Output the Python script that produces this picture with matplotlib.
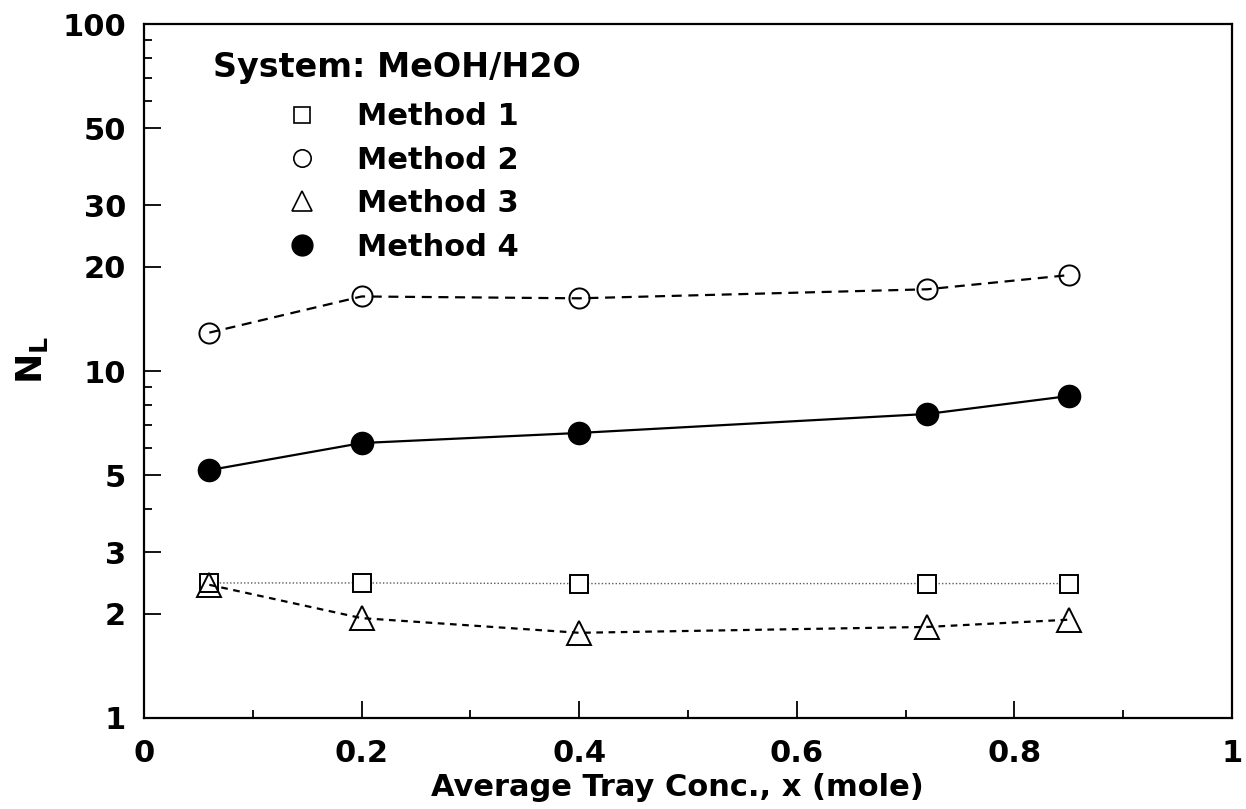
#!/usr/bin/env python3
"""Number of liquid-phase transfer units versus average tray concentration."""
import matplotlib
matplotlib.use("Agg")
import matplotlib.pyplot as plt
from matplotlib.lines import Line2D

plt.rcParams['font.family'] = ['DejaVu Sans']
plt.rcParams['font.weight'] = 'bold'
plt.rcParams['mathtext.fontset'] = 'custom'
plt.rcParams['mathtext.rm'] = 'DejaVu Sans:bold'
plt.rcParams['mathtext.bf'] = 'DejaVu Sans:bold'
plt.rcParams['mathtext.it'] = 'DejaVu Sans:bold'

# Average tray concentration, x (mole fraction MeOH)
x_conc = [0.06, 0.2, 0.4, 0.72, 0.85]

# N_L for each method
method1 = [2.45, 2.45, 2.44, 2.44, 2.44]
method2 = [12.9, 16.4, 16.2, 17.2, 18.9]
method3 = [2.42, 1.94, 1.76, 1.83, 1.92]
method4 = [5.18, 6.2, 6.63, 7.52, 8.47]

y_major = [1, 2, 3, 5, 10, 20, 30, 50, 100]
y_minor = [4, 6, 7, 8, 9, 60, 70, 80, 90]
x_major = [0, 0.2, 0.4, 0.6, 0.8, 1]
x_minor = [0.1, 0.3, 0.5, 0.7, 0.9]
x_labels = ['0', '0.2', '0.4', '0.6', '0.8', '1']
method_names = ['Method 1', 'Method 2', 'Method 3', 'Method 4']


def main():
    fig = plt.figure(figsize=(12.46, 8.09), dpi=100)
    ax = fig.add_axes([0.1156, 0.1125, 0.8732, 0.8578])

    ax.plot(x_conc, method1, linestyle=(0, (1, 1.5)), color='0.35', linewidth=1.0,
            marker='s', markersize=13.5, markerfacecolor='white',
            markeredgecolor='black', markeredgewidth=1.4, zorder=3)
    ax.plot(x_conc, method2, linestyle=(0, (4.5, 3)), color='black', linewidth=1.6,
            marker='o', markersize=14.5, markerfacecolor='none',
            markeredgecolor='black', markeredgewidth=1.4, zorder=3)
    ax.plot(x_conc, method3, linestyle=(0, (3, 2.5)), color='black', linewidth=1.6,
            marker='^', markersize=17, markerfacecolor='none',
            markeredgecolor='black', markeredgewidth=1.4, zorder=3)
    ax.plot(x_conc, method4, linestyle='-', color='black', linewidth=1.6,
            marker='o', markersize=16, markerfacecolor='black',
            markeredgecolor='black', zorder=3)

    ax.set_yscale('log')
    ax.set_xlim(0, 1)
    ax.set_ylim(1, 100)

    ax.set_yticks(y_major, [str(v) for v in y_major])
    ax.set_yticks(y_minor, minor=True)
    ax.yaxis.set_minor_formatter(plt.NullFormatter())
    ax.set_xticks(x_major, x_labels)
    ax.set_xticks(x_minor, minor=True)

    ax.tick_params(which='both', direction='in', top=False, right=False,
                   labelsize=22, width=1.3)
    ax.tick_params(which='major', length=12)
    ax.tick_params(which='minor', length=6)
    ax.tick_params(axis='x', pad=15)
    ax.tick_params(axis='y', pad=13)

    for spine in ax.spines.values():
        spine.set_linewidth(1.6)

    ax.set_xlabel('Average Tray Conc., x (mole)', fontsize=22,
                  fontweight='bold')
    ax.xaxis.set_label_coords(0.49, -0.079)
    ax.set_ylabel(r'$\mathbf{N_L}$', fontsize=26)
    ax.yaxis.set_label_coords(-0.086, 0.516)

    # legend: system name on top, marker key indented below it
    ax.text(0.0634, 0.9236, 'System: MeOH/H2O', transform=ax.transAxes,
            fontsize=24, fontweight='bold', ha='left', va='baseline')
    handles = [
        Line2D([], [], linestyle='none', marker='s', markersize=12,
               markerfacecolor='white', markeredgecolor='black',
               markeredgewidth=1.2),
        Line2D([], [], linestyle='none', marker='o', markersize=12.5,
               markerfacecolor='white', markeredgecolor='black',
               markeredgewidth=1.2),
        Line2D([], [], linestyle='none', marker='^', markersize=15,
               markerfacecolor='white', markeredgecolor='black',
               markeredgewidth=1.2),
        Line2D([], [], linestyle='none', marker='o', markersize=15,
               markerfacecolor='black', markeredgecolor='black'),
    ]
    leg = ax.legend(handles, method_names, loc='upper left',
                    bbox_to_anchor=(0.131, 0.887), frameon=False,
                    fontsize=22, handlelength=1.0, handletextpad=1.29,
                    labelspacing=0.47, borderpad=0, borderaxespad=0)
    for t in leg.get_texts():
        t.set_fontweight('bold')

    fig.savefig('out.png', dpi=100)


if __name__ == '__main__':
    main()
